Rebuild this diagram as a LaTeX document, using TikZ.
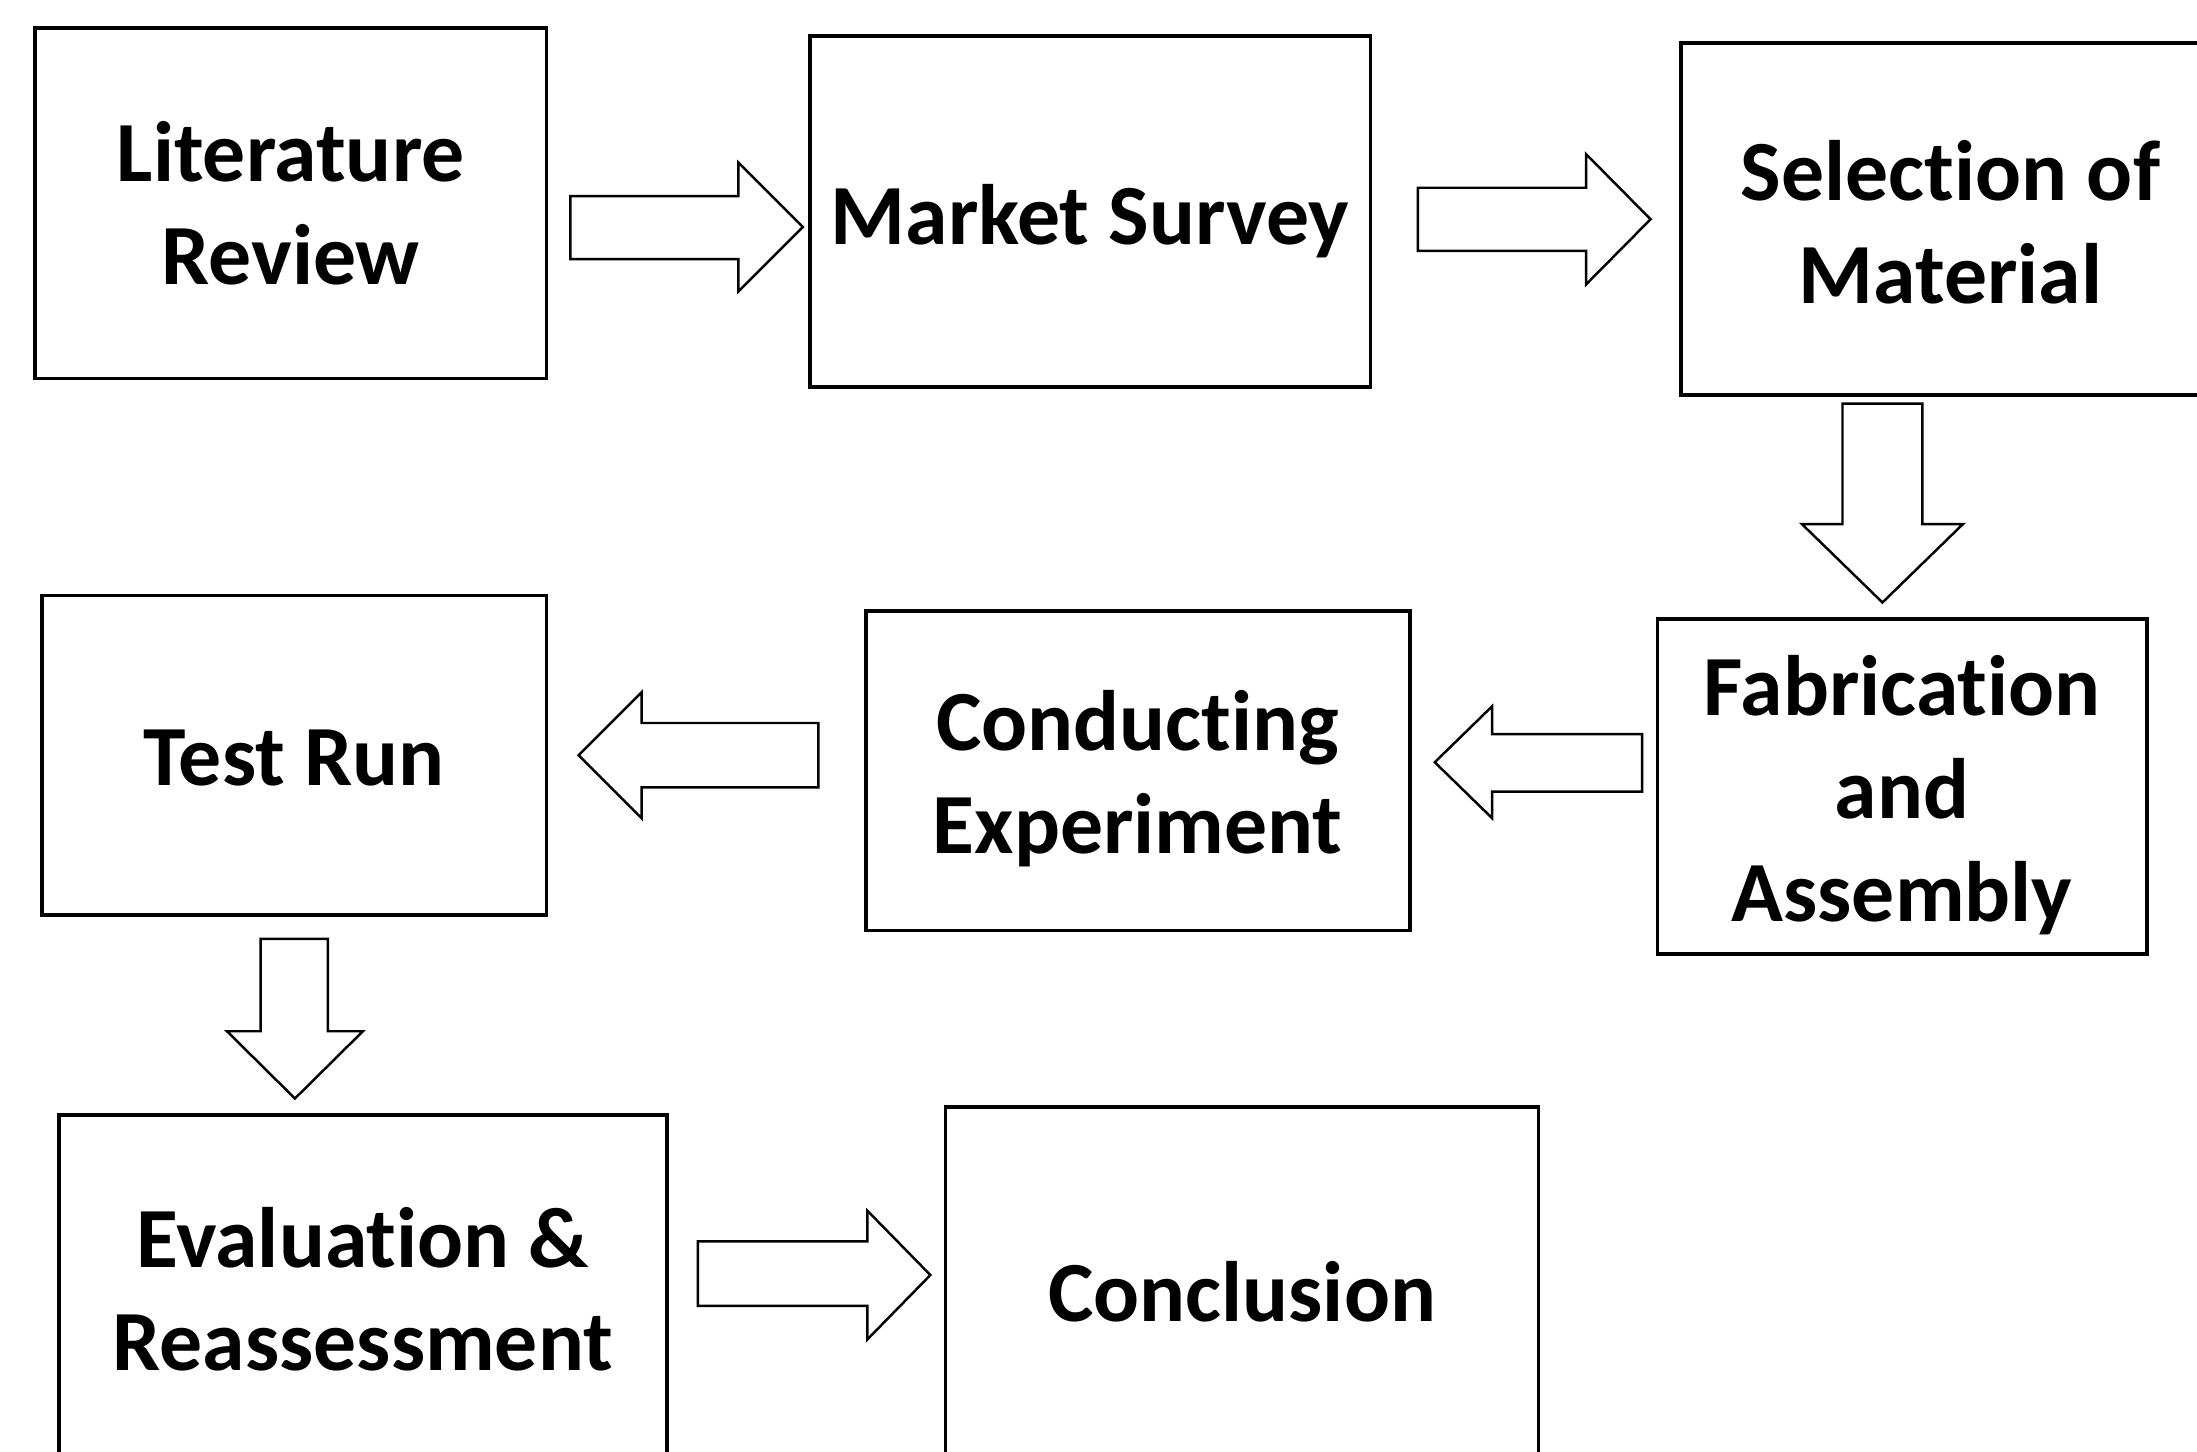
\documentclass[tikz,border=0pt]{standalone}
\usepackage{fontspec}
\setmainfont{Carlito}[Ligatures=NoCommon]
\begin{document}
\begin{tikzpicture}[x=0.01cm,y=-0.01cm,
  box/.style={draw=black, line width=0.75pt, rectangle, inner sep=0pt},
  txt/.style={align=center, inner sep=0pt, font=\fontsize{17.4}{20.9}\selectfont\bfseries},
  blk/.style={draw=black, line width=0.5pt, fill=white, line join=miter}]
\useasboundingbox (0,0) rectangle (1568,1036);
\clip (0,0) rectangle (1568,1036);
% boxes
\node[box, minimum width=3.65cm, minimum height=2.50cm] (lit) at (207.5,145) {};
\node[box, minimum width=4.00cm, minimum height=2.50cm] (mkt) at (778,151) {};
\node[box, minimum width=3.84cm, minimum height=2.51cm] (sel) at (1392,156.5) {};
\node[box, minimum width=3.49cm, minimum height=2.39cm] (fab) at (1357.5,561.5) {};
\node[box, minimum width=3.88cm, minimum height=2.28cm] (con) at (812,550) {};
\node[box, minimum width=3.60cm, minimum height=2.28cm] (test) at (210,539) {};
\node[box, minimum width=4.34cm, minimum height=2.48cm] (eva) at (259,920) {};
\node[box, minimum width=4.23cm, minimum height=2.64cm] (conc) at (886.5,922) {};
% texts
\node[txt] (lit-t) at (207.5,145) {Literature\\Review};
\node[txt] (mkt-t) at (778,158) {Market Survey};
\node[txt] (sel-t) at (1392,158.5) {Selection of\\Material};
\node[txt] (fab-t) at (1357.5,567.5) {Fabrication\\and\\Assembly};
\node[txt] (con-t) at (812,555.5) {Conducting\\Experiment};
\node[txt] (test-t) at (210,541) {Test Run};
\node[txt] (eva-t) at (259,920) {Evaluation \&\\Reassessment};
\node[txt] (conc-t) at (886.5,922) {Conclusion};
% block arrows
\draw[blk] (407,140) -- (527,140) -- (527,116) -- (573,162) -- (527,208) -- (527,185) -- (407,185) -- cycle;
\draw[blk] (1012,134) -- (1132,134) -- (1132,110) -- (1178,156.5) -- (1132,203) -- (1132,179) -- (1012,179) -- cycle;
\draw[blk] (1315,288) -- (1372,288) -- (1372,374) -- (1401,374) -- (1343.5,430) -- (1286,374) -- (1315,374) -- cycle;
\draw[blk] (1172,524) -- (1065,524) -- (1065,504) -- (1024,544) -- (1065,584) -- (1065,565) -- (1172,565) -- cycle;
\draw[blk] (584,516) -- (458,516) -- (458,494) -- (413,539) -- (458,584) -- (458,562) -- (584,562) -- cycle;
\draw[blk] (186,670) -- (234,670) -- (234,736) -- (259,736) -- (210.5,784) -- (162,736) -- (186,736) -- cycle;
\draw[blk] (498,886) -- (619,886) -- (619,864) -- (664,910) -- (619,956) -- (619,932) -- (498,932) -- cycle;
\end{tikzpicture}
\end{document}
